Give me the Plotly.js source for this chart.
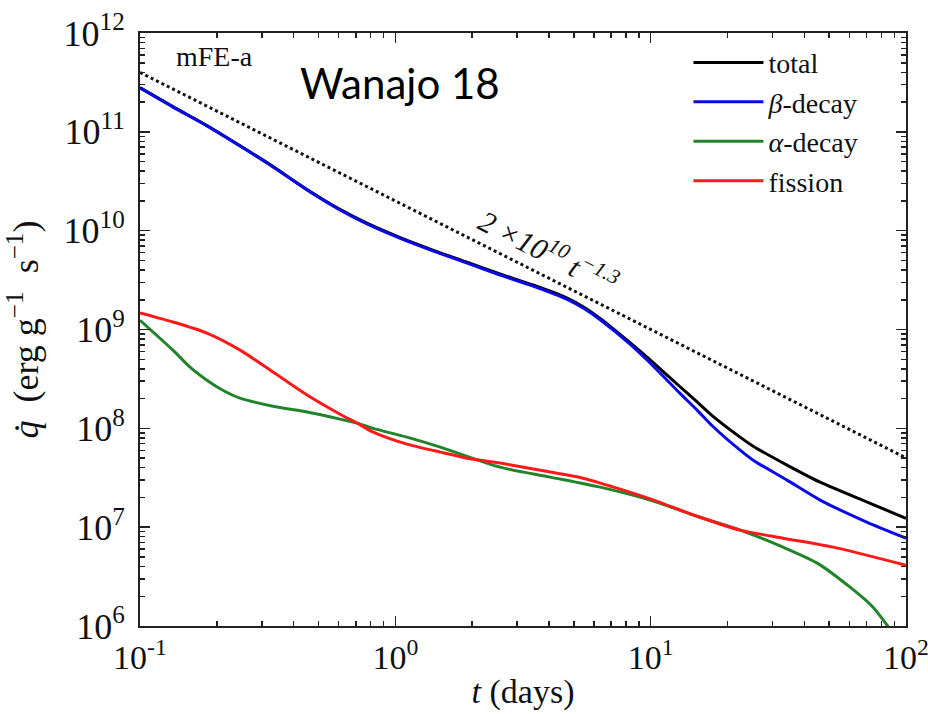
<!DOCTYPE html>
<html><head><meta charset="utf-8">
<script src="https://cdn.plot.ly/plotly-3.0.1.min.js"></script>
<style>html,body{margin:0;padding:0;background:#fff;}</style>
</head><body>
<div id="chart" style="width:928px;height:714px;"></div>
<script>
// time in days, heating rate in erg/g/s
const tBeta = [0.1, 0.1346, 0.1828, 0.2466, 0.332, 0.451, 0.607, 0.774, 1.04, 1.41, 1.91, 2.57, 3.46, 4.71, 5.50, 6.34, 8.30, 9.68, 11.2, 13.0, 15.2, 17.5, 22.4, 25.2, 34.2, 46.1, 70.5, 100];
const qBeta = [2.77e11, 1.78e11, 1.15e11, 7.18e10, 4.41e10, 2.58e10, 1.62e10, 1.17e10, 8.41e9, 6.22e9, 4.70e9, 3.56e9, 2.75e9, 2.02e9, 1.62e9, 1.255e9, 7.13e8, 4.92e8, 3.37e8, 2.27e8, 1.53e8, 1.05e8, 6.01e7, 4.76e7, 2.99e7, 1.88e7, 1.12e7, 7.74e6];

const tTotal = [0.1, 0.1346, 0.1828, 0.2466, 0.332, 0.451, 0.607, 0.774, 1.04, 1.41, 1.91, 2.57, 3.46, 4.71, 5.50, 6.34, 8.30, 9.68, 11.2, 13.0, 15.2, 17.5, 22.4, 25.2, 34.2, 46.1, 70.5, 100];
const qTotal = [2.80e11, 1.80e11, 1.16e11, 7.24e10, 4.45e10, 2.61e10, 1.64e10, 1.19e10, 8.55e9, 6.33e9, 4.80e9, 3.65e9, 2.82e9, 2.08e9, 1.67e9, 1.29e9, 7.35e8, 5.25e8, 3.75e8, 2.65e8, 1.85e8, 1.33e8, 8.15e7, 6.6e7, 4.25e7, 2.85e7, 1.79e7, 1.23e7];

const tAlpha = [0.1, 0.1346, 0.157, 0.1828, 0.211, 0.2466, 0.332, 0.451, 0.607, 0.708, 0.819, 1.11, 1.50, 2.57, 4.04, 6.34, 9.95, 15.6, 22.4, 33.0, 44.9, 60.4, 74.3, 84.3, 93.3];
const qAlpha = [1.24e9, 6.18e8, 4.16e8, 3.07e8, 2.43e8, 2.02e8, 1.67e8, 1.46e8, 1.24e8, 1.13e8, 1.00e8, 8.15e7, 6.46e7, 4.05e7, 3.21e7, 2.54e7, 1.88e7, 1.26e7, 9.33e6, 6.28e6, 4.33e6, 2.47e6, 1.55e6, 1.02e6, 7.0e5];

const tFission = [0.1, 0.1346, 0.1828, 0.2466, 0.332, 0.451, 0.607, 0.708, 0.819, 1.11, 1.50, 1.91, 2.57, 4.04, 5.43, 7.38, 9.95, 15.6, 22.4, 33.0, 51.8, 100];
const qFission = [1.47e9, 1.19e9, 9.2e8, 6.19e8, 3.71e8, 2.17e8, 1.39e8, 1.13e8, 9.16e7, 6.92e7, 5.74e7, 4.99e7, 4.45e7, 3.61e7, 3.13e7, 2.48e7, 1.93e7, 1.26e7, 9.33e6, 7.74e6, 6.28e6, 4.12e6];

// reference power law 2e10 t^-1.3, read at the two ends of the dotted line
const tFit = [0.1, 100];
const qFit = [3.99e11, 5.02e7];

const xTickVals = [0.1, 1, 10, 100];
const xTickText = ['10<sup>-1</sup>', '10<sup>0</sup>', '10<sup>1</sup>', '10<sup>2</sup>'];
const yTickVals = [1e6, 1e7, 1e8, 1e9, 1e10, 1e11, 1e12];
const yTickText = ['10<sup>6</sup>', '10<sup>7</sup>', '10<sup>8</sup>', '10<sup>9</sup>', '10<sup>10</sup>', '10<sup>11</sup>', '10<sup>12</sup>'];

function minorTicks(lo, hi) {
  const out = [];
  for (let e = lo; e < hi; e++) for (let m = 2; m <= 9; m++) out.push(m * Math.pow(10, e));
  return out;
}

const serif = 'Liberation Serif, Times New Roman, serif';
const lw = 3;
const sm = 0.7;

const traces = [
  {x: tFit, y: qFit, mode: 'lines', line: {color: '#111', width: 3, dash: 'dot'}, showlegend: false, hoverinfo: 'skip'},
  {x: tTotal, y: qTotal, name: 'total', mode: 'lines', line: {color: '#000000', width: lw, shape: 'spline', smoothing: sm}},
  {x: tBeta, y: qBeta, name: '<i>β</i>-decay', mode: 'lines', line: {color: '#0a0ae6', width: lw, shape: 'spline', smoothing: sm}},
  {x: tAlpha, y: qAlpha, name: '<i>α</i>-decay', mode: 'lines', line: {color: '#22842a', width: lw, shape: 'spline', smoothing: sm}},
  {x: tFission, y: qFission, name: 'fission', mode: 'lines', line: {color: '#ff1a1a', width: lw, shape: 'spline', smoothing: sm}}
];

const axisCommon = {
  type: 'log', showgrid: false, zeroline: false,
  showline: true, linecolor: '#222', linewidth: 2, mirror: 'allticks',
  ticks: 'inside', ticklen: 10, tickwidth: 1.5, tickcolor: '#222',
  tickmode: 'array', ticklabeloverflow: 'allow',
  tickfont: {family: serif, size: 36, color: '#111'}
};

const layout = {
  width: 928, height: 714,
  paper_bgcolor: '#fff', plot_bgcolor: '#fff',
  margin: {l: 140, r: 22, t: 33, b: 88},
  showlegend: true,
  legend: {
    x: 0.716, y: 0.992, xanchor: 'left', yanchor: 'top',
    bgcolor: 'rgba(0,0,0,0)', borderwidth: 0,
    font: {family: serif, size: 28, color: '#111'},
    itemwidth: 70
  },
  xaxis: Object.assign({}, axisCommon, {
    range: [-1, 2], tickvals: xTickVals, ticktext: xTickText,
    tickfont: {family: serif, size: 34, color: '#111'},
    minor: {tickmode: 'array', tickvals: minorTicks(-1, 2), ticks: 'inside', ticklen: 5, tickcolor: '#222', showgrid: false},
    title: {text: '<i>t</i> (days)', font: {family: serif, size: 34, color: '#111'}, standoff: 4}
  }),
  yaxis: Object.assign({}, axisCommon, {
    range: [6, 12], tickvals: yTickVals, ticktext: yTickText,
    minor: {tickmode: 'array', tickvals: minorTicks(6, 12), ticks: 'inside', ticklen: 5, tickcolor: '#222', showgrid: false},
    ticklabelstandoff: 6,
    title: {text: '<i>q̇</i>  (erg g<sup>−1</sup>  s<sup>−1</sup>)', font: {family: serif, size: 36, color: '#111'}, standoff: 14}
  }),
  annotations: [
    {xref: 'paper', yref: 'paper', x: 0.045, y: 0.99, xanchor: 'left', yanchor: 'top', showarrow: false,
     text: 'mFE-a', font: {family: serif, size: 28, color: '#111'}},
    {xref: 'paper', yref: 'paper', x: 0.34, y: 0.915, xanchor: 'center', yanchor: 'middle', showarrow: false,
     text: 'Wanajo 18', font: {family: 'Lato, Open Sans, sans-serif', size: 42, color: '#000'}},
    {xref: 'x', yref: 'y', x: Math.log10(4.0), y: Math.log10(6.3e9), xanchor: 'center', yanchor: 'middle', showarrow: false,
     textangle: 27, text: '<i>2 ×10<sup>10</sup> t<sup>−1.3</sup></i>', font: {family: serif, size: 30, color: '#111'}}
  ]
};

Plotly.newPlot('chart', traces, layout, {displayModeBar: false, staticPlot: true});
</script>
</body></html>
